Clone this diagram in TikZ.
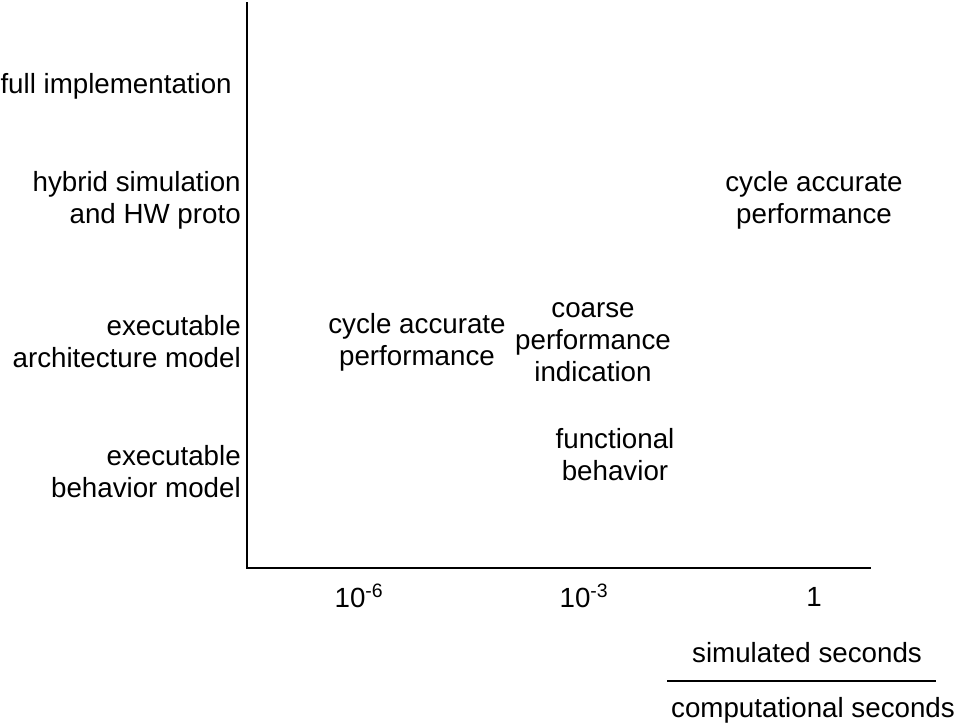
\documentclass[tikz,border=0pt]{standalone}
\usepackage{fontspec}
\setmainfont{Liberation Sans}
\tikzset{
  lbl/.style={inner sep=0pt,align=center,font=\fontsize{20.8}{24}\selectfont},
  lbr/.style={lbl,align=right,anchor=east}
}
\begin{document}
\begin{tikzpicture}[x=0.75pt,y=-0.75pt]
\useasboundingbox (0,0) rectangle (957,726);
% axes
\draw[line width=0.9pt] (247,2) -- (247,568) -- (871,568);
% levels
\node[lbr] (full) at (232,86) {full implementation};
\node[lbr] (hybrid) at (241,200) {hybrid simulation\\and HW proto};
\node[lbr] (arch) at (241,342) {executable\\architecture model};
\node[lbr] (behav) at (241,472) {executable\\behavior model};
% entries
\node[lbl] (cycA) at (417,342) {cycle accurate\\performance};
\node[lbl] (coarse) at (593,342) {coarse\\performance\\indication};
\node[lbl] (func) at (615,455) {functional\\behavior};
\node[lbl] (cycB) at (814,200) {cycle accurate\\performance};
% ticks
\node[lbl] (t6) at (359,596) {10\textsuperscript{-6}};
\node[lbl] (t3) at (584,596) {10\textsuperscript{-3}};
\node[lbl] (t0) at (814,597) {1};
% unit
\node[lbl] (sim) at (807,653) {simulated seconds};
\node[lbl] (comp) at (813,710) {computational seconds};
\draw[line width=0.9pt] (667,681) -- (936,681);
\end{tikzpicture}
\end{document}
